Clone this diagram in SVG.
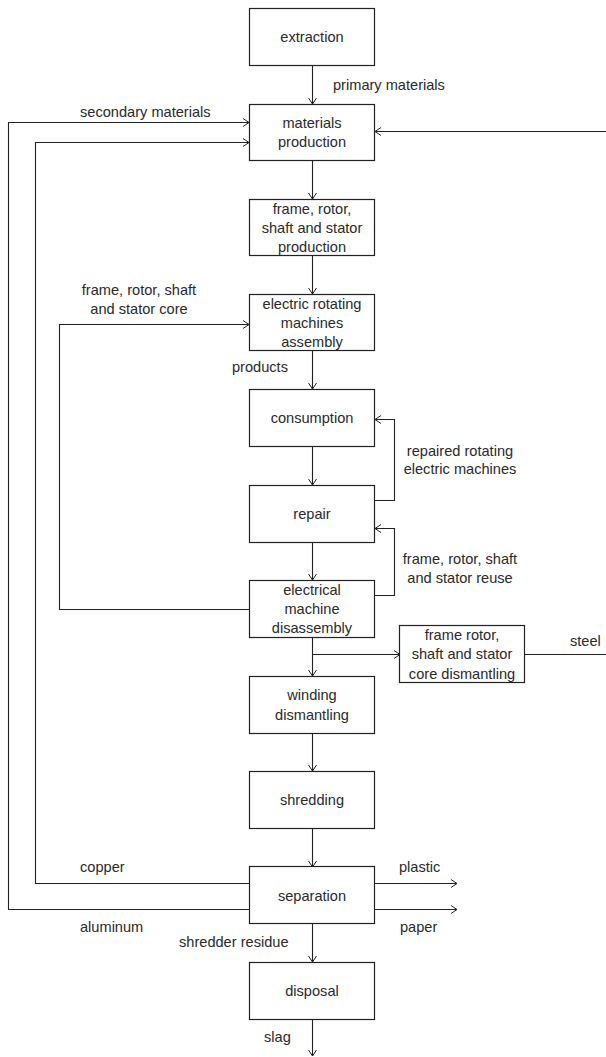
<svg xmlns="http://www.w3.org/2000/svg" width="606" height="1057" viewBox="0 0 606 1057">
<style>
.box{fill:#fff;stroke:#222;stroke-width:1.2}
.ln{fill:none;stroke:#222;stroke-width:1.1}
text{font-family:"Liberation Sans",Arial,sans-serif;font-size:14.6px;fill:#2a2a2a;dominant-baseline:central}
.c{text-anchor:middle}
</style>
<defs>
<marker id="ah" markerWidth="10" markerHeight="10" refX="8" refY="5" orient="auto" markerUnits="userSpaceOnUse">
<polyline points="2,1 8,5 2,9" fill="none" stroke="#222" stroke-width="1"/>
</marker>
</defs>
<rect width="606" height="1057" fill="#fff"/>
<g id="connectors">
<path class="ln" d="M312.5,66 V104" marker-end="url(#ah)"/>
<path class="ln" d="M249,909.5 H8.5 V122.5 H249" marker-end="url(#ah)"/>
<path class="ln" d="M249,883.5 H35.5 V142.5 H249" marker-end="url(#ah)"/>
<path class="ln" d="M606,131.5 H375" marker-end="url(#ah)"/>
<path class="ln" d="M312.5,160 V199" marker-end="url(#ah)"/>
<path class="ln" d="M312.5,256 V294" marker-end="url(#ah)"/>
<path class="ln" d="M249,609.5 H59.5 V324.5 H249" marker-end="url(#ah)"/>
<path class="ln" d="M312.5,351 V389" marker-end="url(#ah)"/>
<path class="ln" d="M312.5,447 V485" marker-end="url(#ah)"/>
<path class="ln" d="M375,500.5 H394.5 V419.5 H375" marker-end="url(#ah)"/>
<path class="ln" d="M312.5,543 V580" marker-end="url(#ah)"/>
<path class="ln" d="M375,595.5 H394.5 V528.5 H375" marker-end="url(#ah)"/>
<path class="ln" d="M312.5,638 V676" marker-end="url(#ah)"/>
<path class="ln" d="M312.5,654.5 H400" marker-end="url(#ah)"/>
<path class="ln" d="M525,654.5 H606"/>
<path class="ln" d="M312.5,734 V771" marker-end="url(#ah)"/>
<path class="ln" d="M312.5,829 V867" marker-end="url(#ah)"/>
<path class="ln" d="M375,883.5 H457" marker-end="url(#ah)"/>
<path class="ln" d="M375,909.5 H457" marker-end="url(#ah)"/>
<path class="ln" d="M312.5,924 V962" marker-end="url(#ah)"/>
<path class="ln" d="M312.5,1019 V1056" marker-end="url(#ah)"/>
</g>
<g id="labels">
<text x="80" y="112">secondary materials</text>
<text x="333" y="85">primary materials</text>
<text class="c" x="139" y="290">frame, rotor, shaft</text>
<text class="c" x="139" y="309">and stator core</text>
<text x="232" y="367">products</text>
<text class="c" x="460" y="451">repaired rotating</text>
<text class="c" x="460" y="469">electric machines</text>
<text class="c" x="460" y="559">frame, rotor, shaft</text>
<text class="c" x="460" y="578">and stator reuse</text>
<text x="570" y="641">steel</text>
<text x="80" y="867">copper</text>
<text x="399" y="867">plastic</text>
<text x="80" y="927">aluminum</text>
<text x="400" y="927">paper</text>
<text x="179" y="942">shredder residue</text>
<text x="264" y="1037">slag</text>
</g>
<g id="extraction"><rect class="box" x="249.5" y="8.5" width="125" height="57"/><text class="c" x="312" y="37">extraction</text></g>
<g id="materials-production"><rect class="box" x="249.5" y="104.5" width="125" height="56"/><text class="c" x="312" y="123">materials</text><text class="c" x="312" y="142">production</text></g>
<g id="frame-production"><rect class="box" x="249.5" y="199.5" width="125" height="56"/><text class="c" x="312" y="209">frame, rotor,</text><text class="c" x="312" y="228">shaft and stator</text><text class="c" x="312" y="247">production</text></g>
<g id="assembly"><rect class="box" x="249.5" y="294.5" width="125" height="56"/><text class="c" x="312" y="304">electric rotating</text><text class="c" x="312" y="323">machines</text><text class="c" x="312" y="342">assembly</text></g>
<g id="consumption"><rect class="box" x="249.5" y="389.5" width="125" height="57"/><text class="c" x="312" y="418">consumption</text></g>
<g id="repair"><rect class="box" x="249.5" y="485.5" width="125" height="57"/><text class="c" x="312" y="514">repair</text></g>
<g id="disassembly"><rect class="box" x="249.5" y="580.5" width="125" height="57"/><text class="c" x="312" y="590">electrical</text><text class="c" x="312" y="609">machine</text><text class="c" x="312" y="628">disassembly</text></g>
<g id="core-dismantling"><rect class="box" x="399.5" y="625.5" width="125" height="57"/><text class="c" x="462" y="635">frame rotor,</text><text class="c" x="462" y="654">shaft and stator</text><text class="c" x="462" y="674">core dismantling</text></g>
<g id="winding-dismantling"><rect class="box" x="249.5" y="676.5" width="125" height="57"/><text class="c" x="312" y="695">winding</text><text class="c" x="312" y="715">dismantling</text></g>
<g id="shredding"><rect class="box" x="249.5" y="771.5" width="125" height="57"/><text class="c" x="312" y="800">shredding</text></g>
<g id="separation"><rect class="box" x="249.5" y="866.5" width="125" height="57"/><text class="c" x="312" y="896">separation</text></g>
<g id="disposal"><rect class="box" x="249.5" y="962.5" width="125" height="57"/><text class="c" x="312" y="991">disposal</text></g>
</svg>
